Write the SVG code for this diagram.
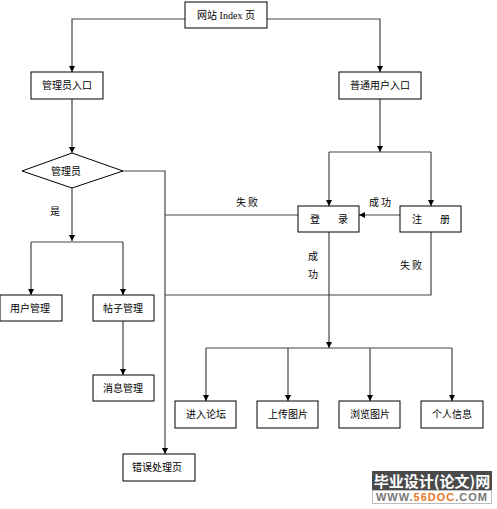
<svg xmlns="http://www.w3.org/2000/svg" width="497" height="509" viewBox="0 0 497 509">
<defs>
<marker id="arr" viewBox="0 0 10 10" refX="10" refY="5" markerWidth="6" markerHeight="6" markerUnits="userSpaceOnUse" orient="auto">
<path d="M0,0 L10,5 L0,10 z" fill="#000"/>
</marker>
<style>
.box{fill:#fff;stroke:#000;stroke-width:1}
.t{font-family:"Noto Sans CJK SC","Liberation Sans",sans-serif;font-size:10px;fill:#000;text-anchor:middle}
.s{font-family:"Liberation Serif","Noto Sans CJK SC",serif;font-size:10px;fill:#000;text-anchor:middle}
.ln{fill:none;stroke:#444;stroke-width:1.2}
.la{fill:none;stroke:#444;stroke-width:1.2;marker-end:url(#arr)}
</style>
</defs>
<rect width="497" height="509" fill="#fff"/>
<g id="connectors">
<polyline class="la" points="185,19 72,19 72,72"/>
<polyline class="la" points="267,19 380,19 380,72"/>
<polyline class="la" points="72,99 72,153"/>
<polyline class="la" points="72,188 72,241"/>
<polyline class="ln" points="31,242 123,242"/>
<polyline class="la" points="31,242 31,295"/>
<polyline class="la" points="123,242 123,295"/>
<polyline class="la" points="123,321 123,375"/>
<polyline class="la" points="123,171 165,171 165,454"/>
<polyline class="ln" points="298,215 165,215"/>
<polyline class="ln" points="431,232 431,295 165,295"/>
<polyline class="la" points="380,99 380,152"/>
<polyline class="ln" points="329,152 431,152"/>
<polyline class="la" points="329,152 329,206"/>
<polyline class="la" points="431,152 431,206"/>
<polyline class="la" points="400,215 359,215"/>
<polyline class="la" points="329,232 329,348"/>
<polyline class="ln" points="206,348 452,348"/>
<polyline class="la" points="206,348 206,401"/>
<polyline class="la" points="288,348 288,401"/>
<polyline class="la" points="370,348 370,401"/>
<polyline class="la" points="452,348 452,401"/>
<text class="t" x="247" y="206">失 败</text>
<text class="t" x="380" y="206">成 功</text>
<text class="t" x="55" y="215">是</text>
<text class="t" x="313" y="260">成</text>
<text class="t" x="313" y="278">功</text>
<text class="t" x="411" y="269">失 败</text>
</g>
<g id="index"><rect class="box" x="185" y="2" width="82" height="26"/><text class="s" x="226" y="19">网站 Index 页</text></g>
<g id="admin-entry"><rect class="box" x="31" y="72" width="72" height="27"/><text class="t" x="67" y="89">管理员入口</text></g>
<g id="user-entry"><rect class="box" x="339" y="72" width="82" height="27"/><text class="t" x="380" y="89">普通用户入口</text></g>
<g id="admin-check"><polygon class="box" points="22,171 72,153 123,171 72,188"/><text class="t" x="66" y="175">管理员</text></g>
<g id="user-mgmt"><rect class="box" x="0" y="295" width="62" height="26"/><text class="t" x="30" y="312">用户管理</text></g>
<g id="post-mgmt"><rect class="box" x="93" y="295" width="61" height="26"/><text class="t" x="123" y="312">帖子管理</text></g>
<g id="msg-mgmt"><rect class="box" x="93" y="375" width="61" height="26"/><text class="t" x="123" y="392">消息管理</text></g>
<g id="error-page"><rect class="box" x="123" y="454" width="72" height="27"/><text class="t" x="157" y="471">错误处理页</text></g>
<g id="login"><rect class="box" x="298" y="206" width="61" height="26"/><text class="t" y="223"><tspan x="315">登</tspan><tspan x="343">录</tspan></text></g>
<g id="register"><rect class="box" x="400" y="206" width="61" height="26"/><text class="t" y="223"><tspan x="417">注</tspan><tspan x="445">册</tspan></text></g>
<g id="forum"><rect class="box" x="175" y="401" width="61" height="27"/><text class="t" x="206" y="418">进入论坛</text></g>
<g id="upload"><rect class="box" x="257" y="401" width="61" height="27"/><text class="t" x="288" y="418">上传图片</text></g>
<g id="browse"><rect class="box" x="339" y="401" width="61" height="27"/><text class="t" x="370" y="418">浏览图片</text></g>
<g id="profile"><rect class="box" x="421" y="401" width="62" height="27"/><text class="t" x="452" y="418">个人信息</text></g>
<g id="watermark">
<rect x="372" y="471" width="120" height="20" fill="#4a4a4a"/>
<rect x="372.5" y="490.5" width="119" height="13" fill="#fff" stroke="#bbb"/>
<text x="432" y="487" font-family="Noto Sans CJK SC,sans-serif" font-size="15" font-weight="bold" fill="#fff" text-anchor="middle">毕业设计(论文)网</text>
<text x="432" y="501" font-family="Liberation Sans,sans-serif" font-size="11" font-weight="bold" fill="#777" text-anchor="middle" letter-spacing="1">WWW.<tspan fill="#e8782a">56DOC</tspan>.COM</text>
</g>
</svg>
